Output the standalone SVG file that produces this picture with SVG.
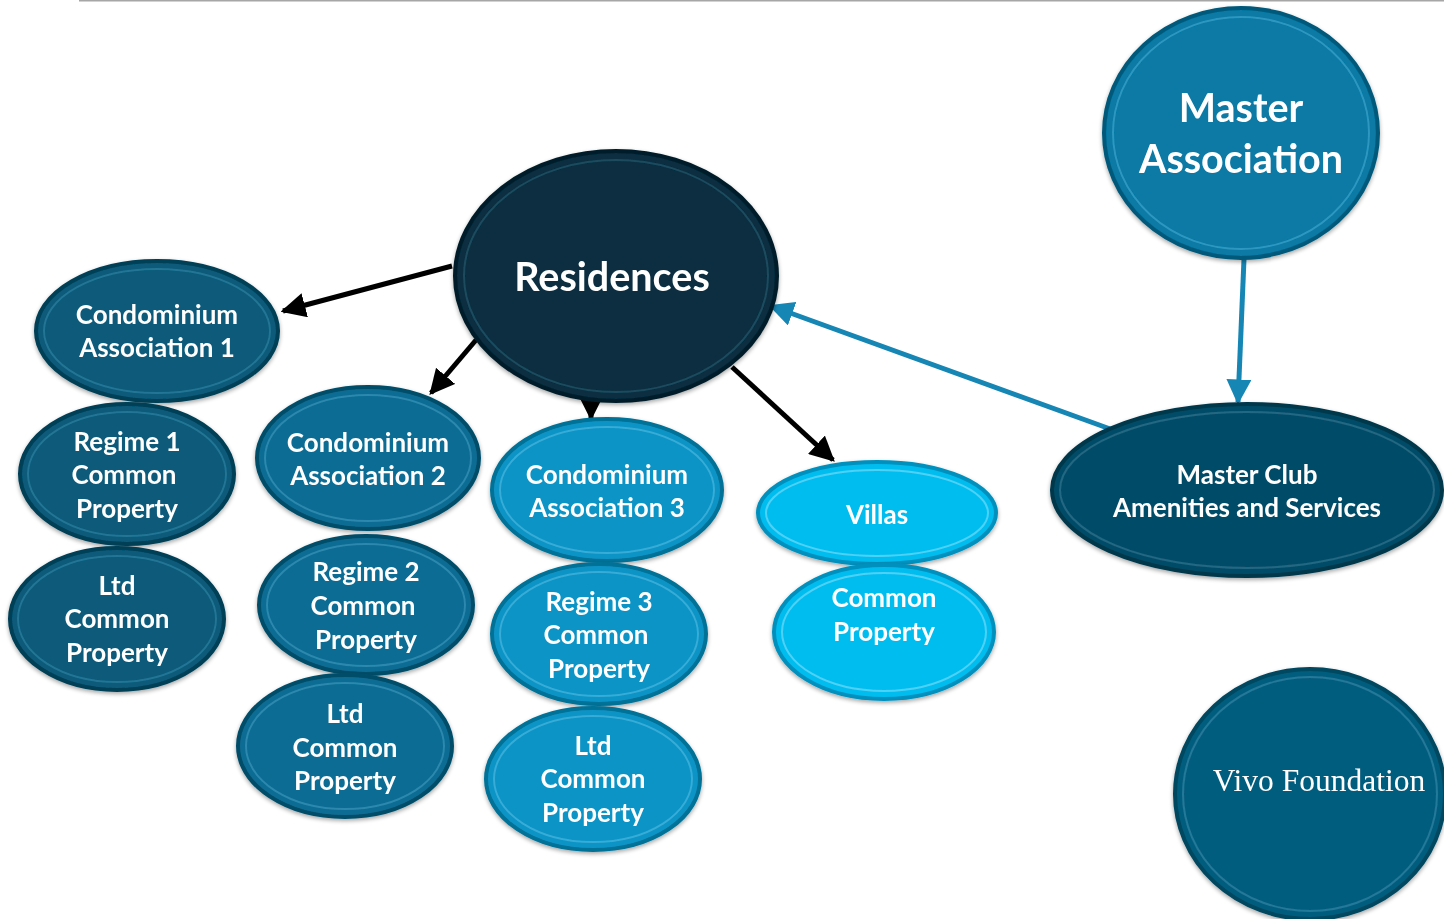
<svg xmlns="http://www.w3.org/2000/svg" width="1444" height="919" viewBox="0 0 1444 919">
  <defs>
    <style>
      .lbl { font-family: Lato, "Open Sans", "Liberation Sans", sans-serif; font-weight: bold; fill: #ffffff; text-anchor: middle; font-size: 26px; }
      .big { font-size: 39.5px; }
      .serif { font-family: "Liberation Serif", "DejaVu Serif", serif; font-weight: normal; font-size: 31.5px; }
      .rim { stroke-width: 4; }
      .ring { fill: none; stroke-width: 2; stroke-opacity: 0.55; }
      .black-arrow { stroke: #000000; stroke-width: 5; fill: none; }
      .blue-arrow { stroke: #1686b4; stroke-width: 5; fill: none; }
    </style>
    <marker id="headBlack" viewBox="0 0 10 10" refX="9" refY="5" markerWidth="5" markerHeight="5" orient="auto" markerUnits="strokeWidth">
      <path d="M0,0 L10,5 L0,10 z" fill="#000000"/>
    </marker>
    <marker id="headBlue" viewBox="0 0 10 10" refX="9" refY="5" markerWidth="5" markerHeight="5" orient="auto" markerUnits="strokeWidth">
      <path d="M0,0 L10,5 L0,10 z" fill="#1686b4"/>
    </marker>
    <filter id="soft" x="-10%" y="-10%" width="120%" height="125%">
      <feGaussianBlur in="SourceAlpha" stdDeviation="2"/>
      <feOffset dx="0" dy="2" result="b"/>
      <feComponentTransfer><feFuncA type="linear" slope="0.35"/></feComponentTransfer>
      <feMerge><feMergeNode/><feMergeNode in="SourceGraphic"/></feMerge>
    </filter>
  </defs>

  <rect width="1444" height="919" fill="#ffffff"/>
  <line x1="79" y1="0.5" x2="1444" y2="0.5" stroke="#a6a6a6" stroke-width="2"/>

  <!-- connectors -->
  <g id="connectors">
    <line class="black-arrow" x1="452" y1="266" x2="283" y2="311" marker-end="url(#headBlack)"/>
    <line class="black-arrow" x1="476" y1="340" x2="431" y2="393" marker-end="url(#headBlack)"/>
    <line class="black-arrow" x1="591" y1="398" x2="591" y2="418" marker-end="url(#headBlack)"/>
    <line class="black-arrow" x1="732" y1="367" x2="833" y2="460" marker-end="url(#headBlack)"/>
    <line class="blue-arrow" x1="1244" y1="259" x2="1238" y2="402" marker-end="url(#headBlue)"/>
    <line class="blue-arrow" x1="1113" y1="430" x2="771" y2="306" marker-end="url(#headBlue)"/>
  </g>

  <!-- Master Association -->
  <g id="master-association" filter="url(#soft)">
    <ellipse cx="1241" cy="133" rx="137" ry="125" fill="#0779a5" stroke="#05597a" class="rim"/>
    <ellipse cx="1241" cy="133" rx="128" ry="116" stroke="#4fb0d6" class="ring"/>
    <text class="lbl big" x="1241" y="122">Master</text>
    <text class="lbl big" x="1241" y="173">Association</text>
  </g>

  <!-- Residences -->
  <g id="residences" filter="url(#soft)">
    <ellipse cx="616" cy="276" rx="161" ry="125" fill="#072f40" stroke="#041e29" class="rim"/>
    <ellipse cx="616" cy="276" rx="152" ry="116" stroke="#2e6278" class="ring"/>
    <text class="lbl big" x="612" y="291">Residences</text>
  </g>

  <!-- Column 1 -->
  <g id="condo-association-1" filter="url(#soft)">
    <ellipse cx="157" cy="331" rx="121" ry="70" fill="#085a7a" stroke="#053f56" class="rim"/>
    <ellipse cx="157" cy="331" rx="113" ry="62" stroke="#3a8aaa" class="ring"/>
    <text class="lbl" x="157" y="324">Condominium</text>
    <text class="lbl" x="157" y="357">Association 1</text>
  </g>
  <g id="regime-1-common-property" filter="url(#soft)">
    <ellipse cx="127" cy="474" rx="107" ry="70" fill="#085a7a" stroke="#053f56" class="rim"/>
    <ellipse cx="127" cy="474" rx="99" ry="62" stroke="#3a8aaa" class="ring"/>
    <text class="lbl" x="127" y="451">Regime 1</text>
    <text class="lbl" x="124" y="484">Common</text>
    <text class="lbl" x="127" y="518">Property</text>
  </g>
  <g id="ltd-common-property-1" filter="url(#soft)">
    <ellipse cx="117" cy="619" rx="107" ry="71" fill="#085a7a" stroke="#053f56" class="rim"/>
    <ellipse cx="117" cy="619" rx="99" ry="63" stroke="#3a8aaa" class="ring"/>
    <text class="lbl" x="117" y="595">Ltd</text>
    <text class="lbl" x="117" y="628">Common</text>
    <text class="lbl" x="117" y="662">Property</text>
  </g>

  <!-- Column 2 -->
  <g id="condo-association-2" filter="url(#soft)">
    <ellipse cx="368" cy="458" rx="111" ry="71" fill="#096c93" stroke="#064e6b" class="rim"/>
    <ellipse cx="368" cy="458" rx="103" ry="63" stroke="#4a9fc2" class="ring"/>
    <text class="lbl" x="368" y="452">Condominium</text>
    <text class="lbl" x="368" y="485">Association 2</text>
  </g>
  <g id="regime-2-common-property" filter="url(#soft)">
    <ellipse cx="366" cy="605" rx="107" ry="69" fill="#096c93" stroke="#064e6b" class="rim"/>
    <ellipse cx="366" cy="605" rx="99" ry="61" stroke="#4a9fc2" class="ring"/>
    <text class="lbl" x="366" y="581">Regime 2</text>
    <text class="lbl" x="363" y="615">Common</text>
    <text class="lbl" x="366" y="649">Property</text>
  </g>
  <g id="ltd-common-property-2" filter="url(#soft)">
    <ellipse cx="345" cy="746" rx="107" ry="71" fill="#096c93" stroke="#064e6b" class="rim"/>
    <ellipse cx="345" cy="746" rx="99" ry="63" stroke="#4a9fc2" class="ring"/>
    <text class="lbl" x="345" y="723">Ltd</text>
    <text class="lbl" x="345" y="757">Common</text>
    <text class="lbl" x="345" y="790">Property</text>
  </g>

  <!-- Column 3 -->
  <g id="condo-association-3" filter="url(#soft)">
    <ellipse cx="607" cy="490" rx="115" ry="71" fill="#0994c6" stroke="#067197" class="rim"/>
    <ellipse cx="607" cy="490" rx="107" ry="63" stroke="#5cc0e4" class="ring"/>
    <text class="lbl" x="607" y="484">Condominium</text>
    <text class="lbl" x="607" y="517">Association 3</text>
  </g>
  <g id="regime-3-common-property" filter="url(#soft)">
    <ellipse cx="599" cy="634" rx="107" ry="70" fill="#0994c6" stroke="#067197" class="rim"/>
    <ellipse cx="599" cy="634" rx="99" ry="62" stroke="#5cc0e4" class="ring"/>
    <text class="lbl" x="599" y="611">Regime 3</text>
    <text class="lbl" x="596" y="644">Common</text>
    <text class="lbl" x="599" y="678">Property</text>
  </g>
  <g id="ltd-common-property-3" filter="url(#soft)">
    <ellipse cx="593" cy="779" rx="107" ry="71" fill="#0994c6" stroke="#067197" class="rim"/>
    <ellipse cx="593" cy="779" rx="99" ry="63" stroke="#5cc0e4" class="ring"/>
    <text class="lbl" x="593" y="755">Ltd</text>
    <text class="lbl" x="593" y="788">Common</text>
    <text class="lbl" x="593" y="822">Property</text>
  </g>

  <!-- Villas -->
  <g id="villas" filter="url(#soft)">
    <ellipse cx="877" cy="513" rx="119" ry="51" fill="#03bdf0" stroke="#0590bd" class="rim"/>
    <ellipse cx="877" cy="513" rx="111" ry="43" stroke="#8ee2fa" class="ring"/>
    <text class="lbl" x="877" y="524">Villas</text>
  </g>
  <g id="villas-common-property" filter="url(#soft)">
    <ellipse cx="884" cy="632" rx="110" ry="67" fill="#03bdf0" stroke="#0590bd" class="rim"/>
    <ellipse cx="884" cy="632" rx="102" ry="59" stroke="#8ee2fa" class="ring"/>
    <text class="lbl" x="884" y="607">Common</text>
    <text class="lbl" x="884" y="641">Property</text>
  </g>

  <!-- Master Club -->
  <g id="master-club" filter="url(#soft)">
    <ellipse cx="1247" cy="490" rx="195" ry="86" fill="#064c67" stroke="#04374b" class="rim"/>
    <ellipse cx="1247" cy="490" rx="187" ry="78" stroke="#3b7f9a" class="ring"/>
    <text class="lbl" x="1247" y="484">Master Club</text>
    <text class="lbl" x="1247" y="517">Amenities and Services</text>
  </g>

  <!-- Vivo Foundation -->
  <g id="vivo-foundation" filter="url(#soft)">
    <ellipse cx="1310" cy="794" rx="135" ry="125" fill="#065d7e" stroke="#044660" class="rim"/>
    <ellipse cx="1310" cy="794" rx="127" ry="117" stroke="#3d8fae" class="ring"/>
    <text class="lbl serif" x="1319" y="791">Vivo Foundation</text>
  </g>
</svg>
